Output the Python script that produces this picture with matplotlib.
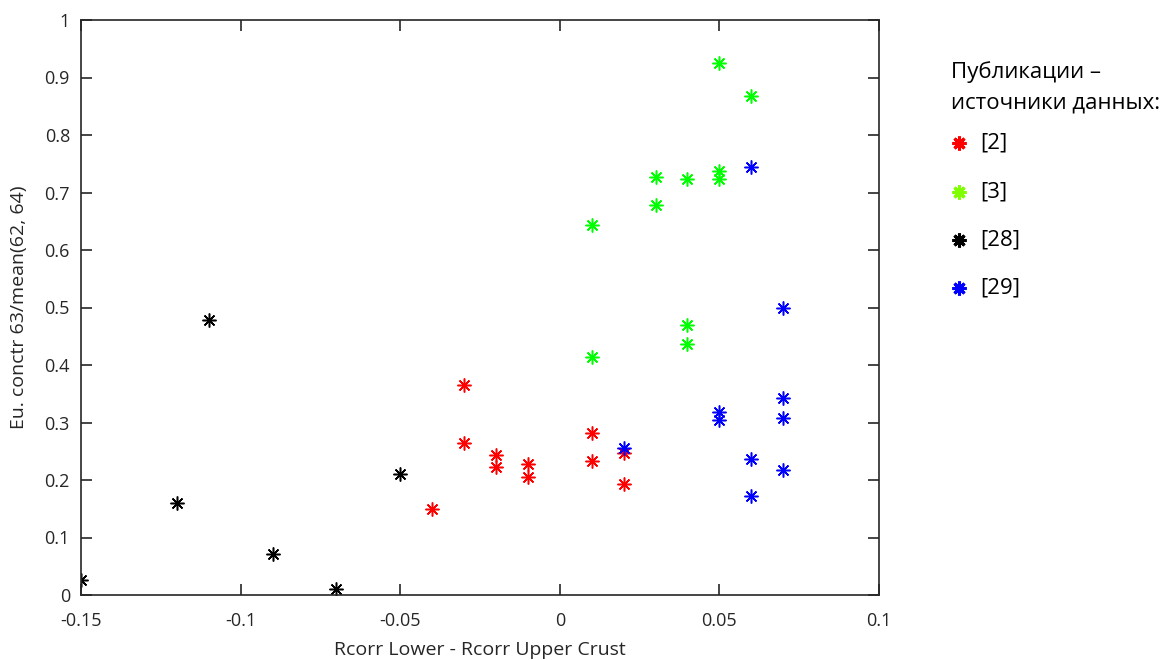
import matplotlib.pyplot as plt

plt.rcParams['font.family'] = ['Open Sans', 'DejaVu Sans']

# [2]
x_2 = [-0.04, -0.03, -0.03, -0.02, -0.02, -0.01, -0.01, 0.01, 0.01, 0.02, 0.02]
y_2 = [0.149, 0.365, 0.264, 0.243, 0.222, 0.227, 0.206, 0.281, 0.233, 0.247, 0.193]
# [3]
x_3 = [0.01, 0.01, 0.03, 0.03, 0.04, 0.04, 0.04, 0.05, 0.05, 0.05, 0.06]
y_3 = [0.643, 0.414, 0.727, 0.678, 0.723, 0.470, 0.436, 0.925, 0.738, 0.723, 0.867]
# [28]
x_28 = [-0.15, -0.12, -0.11, -0.09, -0.07, -0.05]
y_28 = [0.026, 0.160, 0.478, 0.071, 0.010, 0.210]
# [29]
x_29 = [0.02, 0.05, 0.05, 0.06, 0.06, 0.06, 0.07, 0.07, 0.07, 0.07]
y_29 = [0.256, 0.318, 0.304, 0.744, 0.237, 0.173, 0.500, 0.342, 0.308, 0.217]

series = [(x_2, y_2, '#ff0000', '[2]'),
          (x_3, y_3, '#00ff00', '[3]'),
          (x_28, y_28, '#000000', '[28]'),
          (x_29, y_29, '#0000ff', '[29]')]
legend_colors = ['#ff0000', '#7fff00', '#000000', '#0000ff']

ast = (8, 2, 0)

fig = plt.figure(figsize=(11.69, 6.6), dpi=100)
ax = fig.add_axes([81 / 1169, 1 - 595 / 660, 798 / 1169, 575 / 660])

for xs, ys, c, lab in series:
    ax.plot(xs, ys, linestyle='none', marker=ast, markersize=10,
            markeredgewidth=1.1, color=c)

ax.set_xlim(-0.15, 0.1)
ax.set_ylim(0, 1)
ax.set_xticks([-0.15, -0.1, -0.05, 0, 0.05, 0.1])
ax.set_xticklabels(['-0.15', '-0.1', '-0.05', '0', '0.05', '0.1'])
ax.set_yticks([i / 10 for i in range(11)])
ax.set_yticklabels(['0', '0.1', '0.2', '0.3', '0.4', '0.5', '0.6', '0.7', '0.8', '0.9', '1'])
ax.tick_params(direction='in', top=True, right=True, length=8, width=1.2,
               color='#262626', labelcolor='#262626', labelsize=13)
ax.tick_params(axis='x', pad=12)
ax.tick_params(axis='y', pad=8)
for s in ax.spines.values():
    s.set_linewidth(1.2)
    s.set_color('#262626')

ax.set_xlabel('Rcorr Lower - Rcorr Upper Crust', fontsize=14, color='#262626', labelpad=8)
ax.set_ylabel('Eu. conctr 63/mean(62, 64)', fontsize=14, color='#262626', labelpad=12)

# legend-like annotation
fig.text(951 / 1169, 1 - 72 / 660, 'Публикации –', fontsize=16, va='center', ha='left')
fig.text(951 / 1169, 1 - 103 / 660, 'источники данных:', fontsize=16, va='center', ha='left')
rows_y = [143, 192, 240, 288]
for (xs, ys, c, lab), lc, ry in zip(series, legend_colors, rows_y):
    fig.lines.append(plt.Line2D([959 / 1169], [1 - ry / 660], transform=fig.transFigure,
                                linestyle='none', marker=ast, markersize=10,
                                markeredgewidth=2.2, color=lc))
    fig.text(980 / 1169, 1 - ry / 660, lab, fontsize=16, va='center', ha='left')

fig.savefig('out.png', dpi=100)
